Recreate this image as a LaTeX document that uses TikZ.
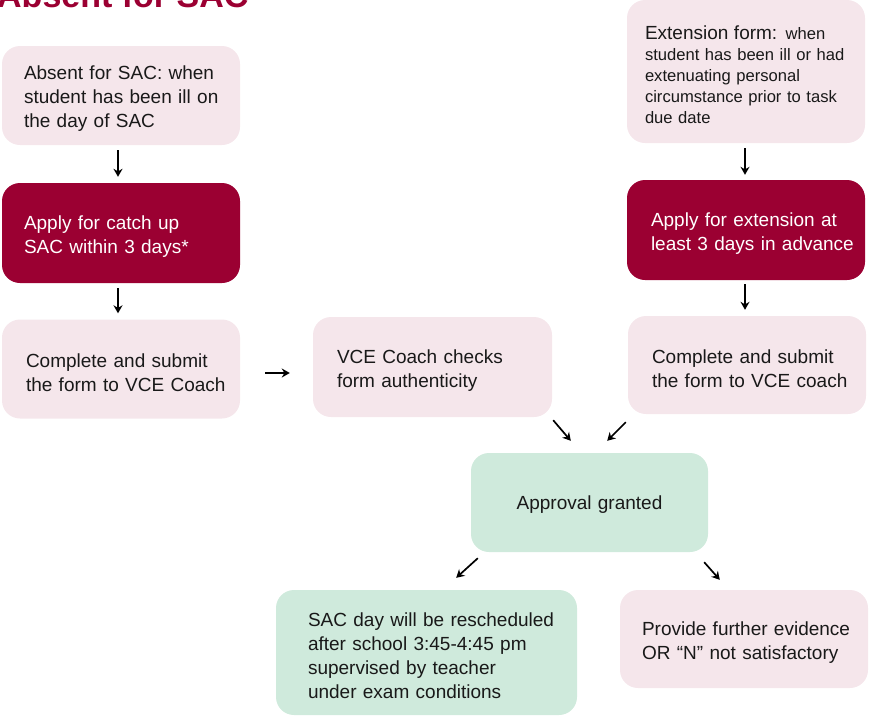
\documentclass[tikz,border=0pt]{standalone}
\usepackage{fontspec}
\setmainfont{Liberation Sans}
\usetikzlibrary{arrows.meta}
\definecolor{sacpink}{RGB}{245,230,235}
\definecolor{sacred}{RGB}{155,0,50}
\definecolor{sacgreen}{RGB}{207,234,220}
\definecolor{sacink}{RGB}{25,25,25}
\tikzset{
  box/.style={rounded corners=18pt, minimum width=238pt, minimum height=99pt,
    inner sep=0pt, text width=222pt, align=left, indent=14pt,
    execute at end node={\par\kern-7pt},
    font=\fontsize{19}{24}\selectfont, text=sacink},
  indent/.style={execute at begin node={\leftskip=#1\hyphenpenalty=10000}},
  pinkbox/.style={box, fill=sacpink},
  redbox/.style={box, fill=sacred, text=white},
  greenbox/.style={box, fill=sacgreen},
  arr/.style={-{Stealth[length=8pt,width=9pt]}, line width=1.7pt, black},
}
\begin{document}
\begin{tikzpicture}[x=1pt,y=-1pt]
\useasboundingbox (0,0) rectangle (869,716);
% title, cut by the top edge
\node[anchor=base west, inner sep=0pt, text=sacred,
  font=\bfseries\fontsize{34}{34}\selectfont] (title) at (-3,7) {Absent for SAC};
% left column
\node[pinkbox] (absent) at (121,95.5) {Absent for SAC: when\\student has been ill on\\the day of SAC};
\node[redbox, minimum height=100pt] (catchup) at (121,233) {Apply for catch up\\SAC within 3 days*};
\node[pinkbox, indent=16pt] (submitl) at (121,369) {Complete and submit\\the form to VCE Coach};
% middle
\node[pinkbox, minimum width=239pt, minimum height=100pt, text width=223pt, indent=16pt] (check) at (432.5,367) {VCE Coach checks\\form authenticity};
% right column
\node[pinkbox, minimum height=143pt, indent=10pt, font=\fontsize{16.6}{21}\selectfont] (extform) at (746,71.5)
  {{\fontsize{19}{21}\selectfont Extension form:} when\\student has been ill or had\\extenuating personal\\circumstance prior to task\\due date};
\node[redbox, minimum height=100pt, indent=16pt] (extapply) at (746,230) {Apply for extension at\\least 3 days in advance};
\node[pinkbox, minimum height=98pt, indent=16pt] (submitr) at (747,365) {Complete and submit\\the form to VCE coach};
% outcome
\node[greenbox, minimum width=237pt, text width=221pt, indent={0pt plus 1fil}] (approve) at (589.5,502.5) {Approval granted};
\node[greenbox, minimum width=301pt, minimum height=125pt, text width=285pt, indent=24pt] (resched) at (426.5,652.5)
  {SAC day will be rescheduled\\after school 3:45-4:45 pm\\supervised by teacher\\under exam conditions};
\node[pinkbox, minimum width=248pt, minimum height=98pt, text width=238pt, indent=17pt] (evidence) at (744,639)
  {Provide further evidence\\OR “N” not satisfactory};
% connectors
\draw[arr] ([shift={(-3,5)}]absent.south) -- ([shift={(-3,-6)}]catchup.north);
\draw[arr] ([shift={(-3,5)}]catchup.south) -- ([shift={(-3,-6)}]submitl.north);
\draw[arr] ([shift={(25,4)}]submitl.east) -- ([shift={(-23,6)}]check.west);
\draw[arr] ([shift={(-1,5)}]extform.south) -- ([shift={(-1,-5)}]extapply.north);
\draw[arr] ([shift={(-1,4)}]extapply.south) -- ([shift={(-2,-6)}]submitr.north);
\draw[arr] ([shift={(1,3)}]check.south east) -- ([shift={(100,-12)}]approve.north west);
\draw[arr] ([shift={(-2,8)}]submitr.south west) -- ([shift={(-101,-12)}]approve.north east);
\draw[arr] ([shift={(7,6)}]approve.south west) -- ([shift={(-121,-12)}]resched.north east);
\draw[arr] ([shift={(-4,10)}]approve.south east) -- ([shift={(100,-10)}]evidence.north west);
\end{tikzpicture}
\end{document}
